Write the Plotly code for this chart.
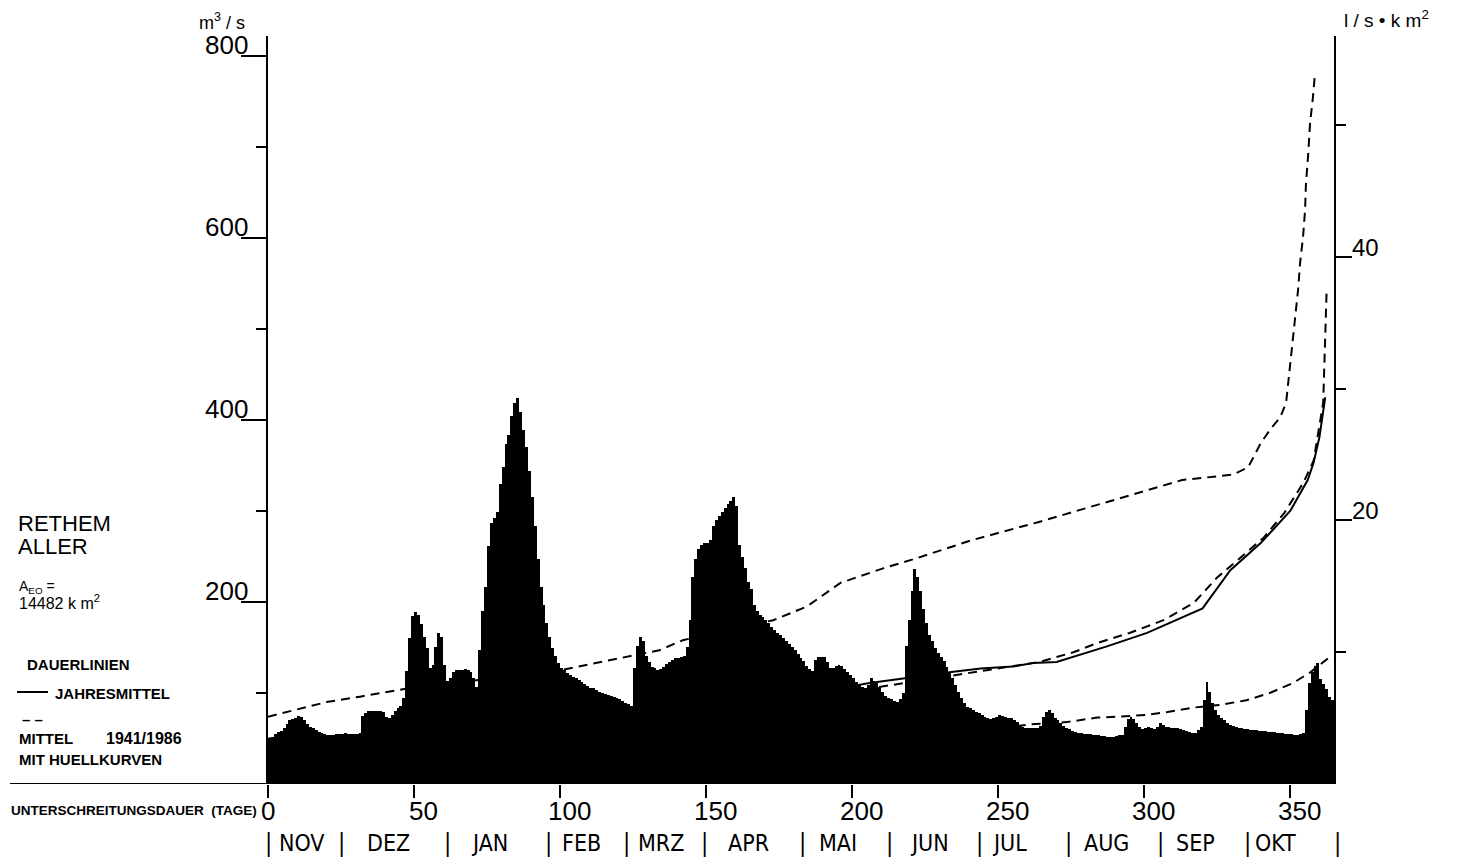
import plotly.graph_objects as go

# ---------------- data ----------------
# daily discharge (m3/s), day 0 = 1 Nov
flow = [
    50, 52, 55, 57, 58, 62, 66, 70, 71, 72,
    75, 74, 70, 66, 63, 61, 59, 57, 56, 55,
    54, 54, 54, 55, 55, 55, 56, 55, 55, 55,
    55, 56, 75, 78, 80, 80, 80, 80, 80, 79,
    74, 72, 76, 80, 84, 86, 95, 124, 160, 185,
    189, 186, 176, 161, 150, 128, 131, 151, 166, 161,
    131, 113, 116, 123, 125, 125, 125, 126, 125, 123,
    117, 107, 147, 190, 217, 262, 287, 292, 299, 330,
    348, 374, 384, 404, 419, 424, 409, 389, 370, 344,
    315, 283, 247, 217, 197, 177, 162, 150, 141, 133,
    128, 125, 122, 120, 118, 116, 114, 112, 110, 108,
    106, 105, 103, 101, 100, 99, 98, 97, 96, 94,
    93, 91, 89, 88, 86, 128, 152, 161, 157, 141,
    134, 129, 127, 125, 126, 129, 132, 134, 136, 138,
    139, 140, 141, 151, 180, 227, 247, 258, 263, 265,
    265, 268, 283, 290, 295, 299, 303, 308, 311, 315,
    305, 263, 250, 237, 222, 214, 197, 190, 186, 183,
    180, 177, 172, 169, 166, 164, 160, 157, 154, 151,
    147, 143, 139, 135, 130, 126, 124, 136, 140, 140,
    140, 134, 127, 128, 130, 131, 130, 126, 123, 120,
    116, 112, 110, 107, 105, 109, 116, 113, 111, 107,
    101, 97, 95, 93, 91, 90, 93, 100, 152, 180,
    212, 236, 227, 212, 192, 177, 164, 157, 150, 144,
    140, 135, 129, 123, 116, 109, 101, 95, 89, 85,
    83, 81, 79, 78, 76, 74, 72, 71, 72, 74,
    76, 75, 74, 73, 72, 70, 68, 65, 63, 62,
    62, 61, 61, 61, 64, 74, 79, 81, 78, 73,
    70, 67, 64, 62, 60, 58, 57, 56, 56, 55,
    55, 55, 54, 54, 54, 53, 53, 52, 52, 52,
    53, 54, 54, 63, 71, 74, 71, 67, 63, 60,
    62, 63, 61, 60, 63, 67, 65, 63, 63, 62,
    61, 61, 60, 59, 58, 57, 56, 56, 59, 63,
    92, 112, 101, 89, 81, 76, 73, 70, 67, 65,
    64, 63, 62, 61, 60, 60, 59, 59, 59, 58,
    58, 58, 57, 57, 57, 56, 56, 56, 55, 55,
    55, 54, 54, 55, 56, 81, 111, 123, 130, 133,
    115, 110, 104, 96, 92,
]
days = list(range(len(flow)))

# duration curve of the year (solid)
year_days = [0, 40, 80, 120, 160, 190, 206, 234, 244, 255, 262, 270, 287, 301, 312, 320,
             329.5, 340, 350, 356, 358, 360, 362]
year_q = [50, 54, 58, 72, 90, 102, 111, 123, 127, 129, 133, 134, 151, 166, 182, 193,
          235, 265, 300, 334, 353, 381, 425]

# mean duration curve 1941/1986 (dashed)
mean_days = [0, 60, 120, 170, 206, 234, 264, 276, 284, 295, 306.6, 317, 325, 332, 341,
             348, 354.5, 358, 361.3, 362.5]
mean_q = [38, 48, 62, 85, 105, 119, 134, 145, 155, 166, 180, 199, 227, 246, 271,
          298, 331, 355, 419, 545]

# upper envelope (dashed)
upper_days = [0, 8.6, 20, 31.5, 47.6, 100, 134, 142, 173, 184.5, 196, 210.6, 222, 241,
              264, 313, 330.5, 335.6, 340, 343.5, 346.6, 348.6, 350.3, 351.7, 352.7,
              353.4, 354.4, 355.1, 355.4, 356.1, 356.8, 357.8, 358.5]
upper_q = [74, 81, 90, 96, 105, 125, 147, 158, 180, 195, 221, 237, 248, 268,
           288, 334, 340, 348, 375, 391, 403, 419, 469, 507, 543,
           573, 601, 631, 660, 689, 726, 755, 781]

# lower envelope (dashed)
lower_days = [0, 60, 120, 180, 230, 250, 262.7, 273.5, 284, 291, 301, 308, 317, 326, 335,
              343, 351, 357, 362.9]
lower_q = [18, 28, 36, 45, 55, 62, 66, 68, 73, 74, 76, 79, 84, 87, 92,
           100, 111, 123, 138]

x_ticks = [0, 50, 100, 150, 200, 250, 300, 350]
y_major = [200, 400, 600, 800]
y_minor = [100, 300, 500, 700]
q_major = [20, 40]
q_minor = [10, 30, 50]
AREA = 14482  # km2

month_names = ["NOV", "DEZ", "JAN", "FEB", "MRZ", "APR", "MAI", "JUN", "JUL", "AUG", "SEP", "OKT"]
month_centers = [11.8, 41.4, 75.7, 107.5, 134.6, 164.4, 195.2, 226.4, 253.8, 287.0, 317.5, 344.9]
month_bars = [0.3, 25.3, 61.3, 96.2, 122.6, 149.3, 182.9, 212.7, 243.5, 274.0, 305.5, 335.3]

# ---------------- figure ----------------
W, H = 1458, 858
L, R, T, B = 268, 124, 36, 74
YMAX = (784 - 36) / 0.91
FONTN = "DejaVu Sans Condensed, Liberation Sans Narrow, Liberation Sans, Arial, sans-serif"
FONTR = "Liberation Sans, Arial, sans-serif"

fig = go.Figure()
fig.add_trace(go.Bar(x=[d + 0.5 for d in days], y=flow, width=1.0,
                     marker=dict(color="black", line=dict(width=0)), hoverinfo="skip"))
dash = "9px,6px"
fig.add_trace(go.Scatter(x=upper_days, y=upper_q, mode="lines",
                         line=dict(color="black", width=2, dash=dash)))
fig.add_trace(go.Scatter(x=mean_days, y=mean_q, mode="lines",
                         line=dict(color="black", width=2, dash=dash)))
fig.add_trace(go.Scatter(x=lower_days, y=lower_q, mode="lines",
                         line=dict(color="black", width=2, dash=dash)))
fig.add_trace(go.Scatter(x=year_days, y=year_q, mode="lines",
                         line=dict(color="black", width=2)))
# invisible trace to activate right axis
fig.add_trace(go.Scatter(x=[0], y=[0], yaxis="y2", mode="markers",
                         marker=dict(opacity=0), hoverinfo="skip"))

fig.update_layout(
    width=W, height=H, margin=dict(l=L, r=R, t=T, b=B),
    paper_bgcolor="white", plot_bgcolor="white", showlegend=False, bargap=0,
    font=dict(family=FONTR, color="black"),
    xaxis=dict(range=[0, 365], showgrid=False, zeroline=False, showline=False,
               tickvals=x_ticks, ticks="outside", ticklen=13, tickwidth=2, tickcolor="black",
               showticklabels=False),
    yaxis=dict(range=[0, YMAX], showgrid=False, zeroline=False, showline=True,
               linecolor="black", linewidth=2, tickvals=y_major, ticks="outside",
               ticklen=25, tickwidth=2, tickcolor="black", showticklabels=False,
               minor=dict(tickvals=y_minor, ticks="outside", ticklen=10, tickwidth=2,
                          tickcolor="black", showgrid=False)),
    yaxis2=dict(range=[0, YMAX * 1000 / AREA], overlaying="y", side="right",
                showgrid=False, zeroline=False, showline=True, linecolor="black",
                linewidth=2, tickvals=q_major, ticks="outside", ticklen=16, tickwidth=2,
                tickcolor="black", showticklabels=False,
                minor=dict(tickvals=q_minor, ticks="outside", ticklen=10, tickwidth=2,
                           tickcolor="black", showgrid=False)),
)

# baseline (extends to the left edge)
fig.add_shape(type="line", xref="paper", yref="y", x0=(10 - L) / (W - L - R), x1=1.0,
              y0=0, y1=0, line=dict(color="black", width=2))
# legend solid line sample
fig.add_shape(type="line", xref="paper", yref="paper",
              x0=(17 - L) / (W - L - R), x1=(48 - L) / (W - L - R),
              y0=(784 - 692) / (H - T - B), y1=(784 - 692) / (H - T - B),
              line=dict(color="black", width=2))

ann = []
# left axis labels
for v in y_major:
    ann.append(dict(x=0, xref="paper", y=v, yref="y", text=str(v), showarrow=False,
                    xanchor="right", yanchor="bottom", xshift=-18, yshift=-6,
                    font=dict(size=26, family=FONTR)))
# right axis labels
for v in q_major:
    ann.append(dict(x=1, xref="paper", y=v, yref="y2", text=str(v), showarrow=False,
                    xanchor="left", yanchor="bottom", xshift=16, yshift=-6,
                    font=dict(size=24, family=FONTR)))
# x tick labels
for v in x_ticks:
    ann.append(dict(x=v, xref="x", y=0, yref="paper", text=str(v), showarrow=False,
                    xanchor="center", yanchor="top", xshift=0 if v == 0 else 9, yshift=-10,
                    font=dict(size=26, family=FONTR)))
# month row
for name, c in zip(month_names, month_centers):
    ann.append(dict(x=c, xref="x", y=0, yref="paper", text=name, showarrow=False,
                    xanchor="center", yanchor="middle", yshift=-59,
                    font=dict(size=23, family=FONTN)))
for b in month_bars:
    ann.append(dict(x=b, xref="x", y=0, yref="paper", text="|", showarrow=False,
                    xanchor="center", yanchor="middle", yshift=-59,
                    font=dict(size=24, family=FONTN)))
ann.append(dict(x=1, xref="paper", y=0, yref="paper", text="|", showarrow=False,
                xanchor="center", yanchor="middle", xshift=3, yshift=-59,
                font=dict(size=24, family=FONTN)))


def txt(text, px, py, size, bold=False, anchor="left", fam=FONTR):
    if bold:
        text = "<b>" + text + "</b>"
    ann.append(dict(x=0, xref="paper", y=0, yref="paper", text=text, showarrow=False,
                    xanchor=anchor, yanchor="middle", xshift=px - L, yshift=784 - py,
                    font=dict(size=size, family=fam)))


txt("m<sup>3</sup> / s", 222, 21, 18, anchor="center")
txt("l / s • k m<sup>2</sup>", 1342, 19, 19)
txt("RETHEM", 16, 523, 22)
txt("ALLER", 16, 546, 22)
txt("A<sub>EO</sub> =", 17, 587, 14)
txt("14482 k m<sup>2</sup>", 17, 602, 16)
txt("DAUERLINIEN", 25, 664, 15, bold=True)
txt("JAHRESMITTEL", 53, 693, 15, bold=True)
txt("– –", 20, 719, 15, bold=True)
txt("MITTEL", 17, 738, 15, bold=True)
txt("1941/1986", 104, 738, 16, bold=True)
txt("MIT HUELLKURVEN", 17, 759, 15, bold=True)
txt("UNTERSCHREITUNGSDAUER  (TAGE)", 9, 810, 13.5, bold=True)

fig.update_layout(annotations=ann)
fig.write_html("out.html")
